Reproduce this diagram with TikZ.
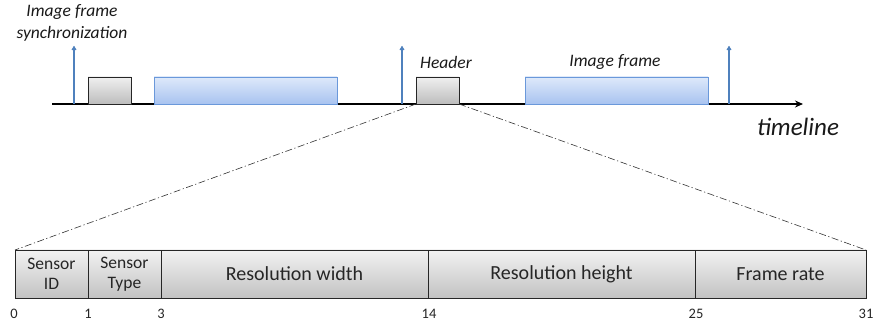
\documentclass[tikz,border=0pt]{standalone}
\usepackage{fontspec}
\setmainfont{Carlito}
\usetikzlibrary{arrows.meta}
\definecolor{syncblue}{HTML}{4F81BD}
\definecolor{boxblueedge}{HTML}{6A98DA}
\tikzset{
  graybox/.style={draw=black!85, line width=0.8pt, top color=black!6, bottom color=black!26, minimum width=43pt, minimum height=27pt, inner sep=0pt, outer sep=0pt, anchor=south west},
  bluebox/.style={draw=boxblueedge, line width=0.8pt, top color={rgb,255:red,222;green,233;blue,250}, bottom color={rgb,255:red,168;green,195;blue,240}, minimum height=27pt, inner sep=0pt, outer sep=0pt, anchor=south west},
  cell/.style={draw=black!85, line width=0.8pt, top color=black!5, bottom color=black!24, minimum height=48pt, inner sep=0pt, outer sep=0pt, anchor=north west, align=center, text=black!85},
  lbl/.style={font=\itshape\fontsize{17.5}{21}\selectfont, inner sep=0pt, align=center, text=black!90},
  num/.style={font=\fontsize{14.5}{16}\selectfont, inner sep=0pt, text=black!85},
  sync/.style={draw=syncblue, line width=2.4pt, -{Latex[round,length=5pt,width=6pt]}},
  zoomline/.style={draw=black!80, line width=0.6pt, dash pattern=on 7pt off 2.5pt on 1.2pt off 2.5pt},
}
\begin{document}
\begin{tikzpicture}[x=1pt,y=-1pt]
\useasboundingbox (0,0) rectangle (873,323);
% timeline
\coordinate (tl0) at (52,104);
\coordinate (tl1) at (803,104);
\draw[line width=2pt, -{Stealth[length=8pt,width=7pt]}] (tl0) -- (tl1);
% boxes
\node[graybox] (g1) at (88,104) {};
\node[bluebox, minimum width=183pt] (b1) at (154,104) {};
\node[graybox] (hdr) at (416,104) {};
\node[bluebox, minimum width=183pt] (b2) at (525,104) {};
% sync arrows
\coordinate (s1a) at (74,104); \coordinate (s1b) at (74,46);
\coordinate (s2a) at (402,104); \coordinate (s2b) at (402,46);
\coordinate (s3a) at (729,104); \coordinate (s3b) at (729,46);
\draw[sync] (s1a) -- (s1b);
\draw[sync] (s2a) -- (s2b);
\draw[sync] (s3a) -- (s3b);
% labels
\node[lbl] (lsync) at (72,23) {Image frame\\[1pt]synchronization};
\node[lbl] (lhdr) at (446,62) {Header};
\node[lbl] (limg) at (615,62) {Image frame};
\node[lbl, font=\itshape\fontsize{25}{28}\selectfont] (ltl) at (798,127) {timeline};
% bar
\node[cell, minimum width=73pt, font=\fontsize{17.5}{20}\selectfont] (c1) at (15,250) {Sensor\\ID};
\node[cell, minimum width=73pt, font=\fontsize{17.5}{20}\selectfont] (c2) at (88,250) {Sensor\\Type};
\node[cell, minimum width=267pt, font=\fontsize{20}{22}\selectfont] (c3) at (161,250) {Resolution width};
\node[cell, minimum width=267pt, font=\fontsize{20}{22}\selectfont] (c4) at (428,250) {Resolution height};
\node[cell, minimum width=171pt, font=\fontsize{20}{22}\selectfont] (c5) at (695,250) {Frame rate};
% zoom lines
\draw[zoomline] (hdr.south west) -- (c1.north west);
\draw[zoomline] (hdr.south east) -- (c5.north east);
% numbers
\node[num] (n0) at (14,314) {0};
\node[num] (n1) at (88,314) {1};
\node[num] (n3) at (161,314) {3};
\node[num] (n14) at (429,314) {14};
\node[num] (n25) at (696,314) {25};
\node[num] (n31) at (866,314) {31};
\end{tikzpicture}
\end{document}
